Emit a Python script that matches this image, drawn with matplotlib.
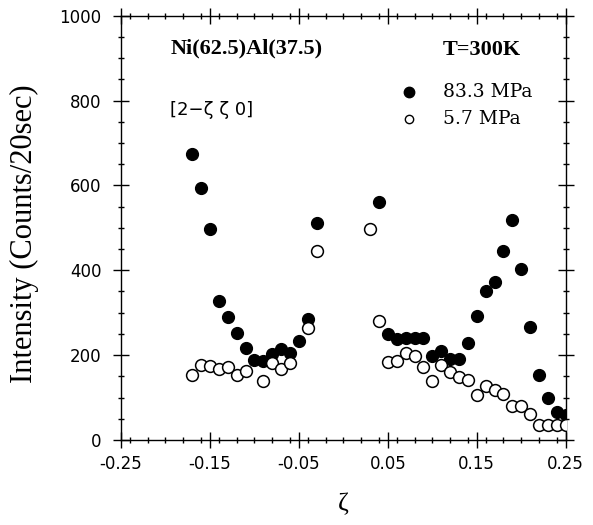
import numpy as np
import matplotlib
matplotlib.use('Agg')
import matplotlib.pyplot as plt
from matplotlib.ticker import MultipleLocator

# 83.3 MPa (filled circles)
z_hi = [-0.17, -0.16, -0.15, -0.14, -0.13, -0.12, -0.11, -0.10, -0.09, -0.08,
        -0.07, -0.06, -0.05, -0.04, -0.03,
        0.04, 0.05, 0.06, 0.07, 0.08, 0.09, 0.10, 0.11, 0.12, 0.13, 0.14,
        0.15, 0.16, 0.17, 0.18, 0.19, 0.20, 0.21, 0.22, 0.23, 0.24, 0.25]
i_hi = [674, 593, 497, 328, 291, 253, 216, 189, 185, 203,
        214, 204, 233, 285, 511,
        560, 250, 238, 240, 240, 241, 199, 210, 190, 190, 228,
        293, 352, 372, 446, 519, 404, 267, 153, 98, 67, 59]

# 5.7 MPa (open circles)
z_lo = [-0.17, -0.16, -0.15, -0.14, -0.13, -0.12, -0.11, -0.09, -0.08,
        -0.07, -0.06, -0.04, -0.03,
        0.03, 0.04, 0.05, 0.06, 0.07, 0.08, 0.09, 0.10, 0.11, 0.12, 0.13,
        0.14, 0.15, 0.16, 0.17, 0.18, 0.19, 0.20, 0.21, 0.22, 0.23, 0.24, 0.25]
i_lo = [153, 177, 175, 167, 173, 153, 163, 140, 182,
        168, 182, 265, 446,
        498, 281, 183, 187, 204, 199, 173, 138, 177, 160, 148,
        142, 105, 128, 118, 108, 81, 79, 61, 35, 36, 36, 36]

xticks = [-0.25, -0.15, -0.05, 0.05, 0.15, 0.25]
yticks = [0, 200, 400, 600, 800, 1000]

serif = 'Liberation Serif'
serif2 = 'DejaVu Serif'
sans = 'DejaVu Sans'

fig = plt.figure(figsize=(5.93, 5.25), dpi=100)
ax = fig.add_axes([0.204, 0.162, 0.750, 0.808])

ax.plot(z_hi, i_hi, 'o', color='black', markersize=8.5, zorder=3)
ax.plot(z_lo, i_lo, 'o', markerfacecolor='white', markeredgecolor='black',
        markeredgewidth=1.1, markersize=8.5, zorder=4)

ax.set_xlim(-0.25, 0.25)
ax.set_ylim(0, 1000)
ax.set_xticks(xticks)
ax.set_xticklabels([f'{t:.2f}' for t in xticks])
ax.set_yticks(yticks)
ax.xaxis.set_minor_locator(MultipleLocator(0.02))
ax.yaxis.set_minor_locator(MultipleLocator(50))
ax.tick_params(which='both', direction='inout', top=True, right=True,
               labeltop=False, labelright=False, width=1)
ax.tick_params(which='major', length=12, labelsize=12)
ax.tick_params(which='minor', length=5)
ax.tick_params(axis='x', which='major', pad=5)
ax.tick_params(axis='y', which='major', pad=8)
for lab in ax.get_xticklabels() + ax.get_yticklabels():
    lab.set_family(sans)
for s in ax.spines.values():
    s.set_linewidth(1)

ax.set_xlabel('ζ', fontsize=19, family=serif, labelpad=14)
ax.text(-0.218, 0.486, 'Intensity (Counts/20sec)', transform=ax.transAxes,
        fontsize=22, family=serif, rotation=90, ha='center', va='center')

ax.text(0.112, 0.923, 'Ni(62.5)Al(37.5)', transform=ax.transAxes,
        fontsize=16, fontweight='bold', family=serif, va='center')
ax.text(0.724, 0.92, 'T=300K', transform=ax.transAxes,
        fontsize=16, fontweight='bold', family=serif, va='center')
ax.text(0.111, 0.778, '[2−ζ ζ 0]', transform=ax.transAxes,
        fontsize=13, family=sans, va='center')

ax.plot([0.647], [0.821], 'o', color='black', markersize=7.5,
        transform=ax.transAxes, clip_on=False)
ax.plot([0.647], [0.757], 'o', markerfacecolor='white', markeredgecolor='black',
        markersize=6, transform=ax.transAxes, clip_on=False)
ax.text(0.724, 0.821, '83.3 MPa', transform=ax.transAxes,
        fontsize=13.5, family=serif2, va='center')
ax.text(0.724, 0.757, '5.7 MPa', transform=ax.transAxes,
        fontsize=13.5, family=serif2, va='center')

fig.savefig('out.png', dpi=100)
